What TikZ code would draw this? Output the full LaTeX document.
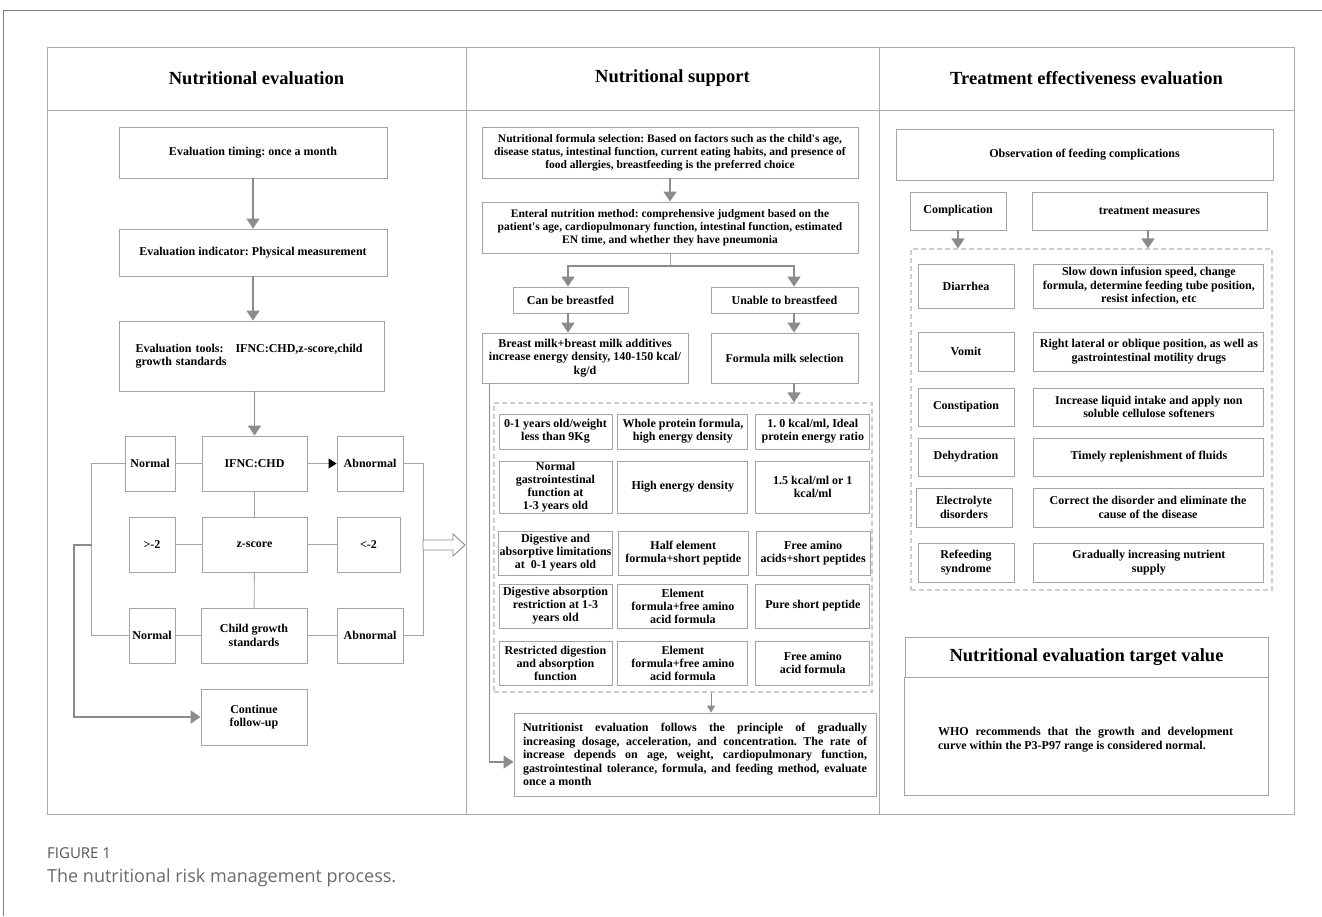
\documentclass[tikz,border=0pt]{standalone}
\usepackage{fontspec}
\setmainfont{Liberation Serif}
\newfontfamily\capfont{Open Sans}
\usetikzlibrary{arrows.meta, positioning, calc}
\frenchspacing

\definecolor{boxgray}{HTML}{A4A4A4}
\definecolor{framegray}{HTML}{ABABAB}
\definecolor{arrowgray}{HTML}{8C8C8C}
\definecolor{dashgray}{HTML}{CDCDCD}
\definecolor{capgray}{HTML}{6A6A6A}
\definecolor{capdark}{HTML}{555555}
\definecolor{outline}{HTML}{808080}

\begin{document}
\begin{tikzpicture}[x=1pt, y=-1pt]
  \tikzset{
    box/.style={
        rectangle, draw=boxgray, line width=0.9pt,
        font=\bfseries\fontsize{12}{13.5}\selectfont,
        align=center, inner sep=1pt,
      },
    cell/.style={box, font=\bfseries\fontsize{12}{13}\selectfont},
    colhead/.style={
        rectangle, draw=framegray, line width=1pt,
        font=\bfseries\fontsize{18.5}{22}\selectfont,
      },
    frame/.style={draw=framegray, line width=1pt},
    dashbox/.style={
        rectangle, draw=dashgray, line width=1.3pt,
        dash pattern=on 5pt off 3pt,
      },
    flow/.style={
        draw=arrowgray, line width=1.8pt,
        -{Triangle[width=13pt,length=10pt]},
      },
    thinflow/.style={
        draw=arrowgray, line width=0.9pt,
        -{Triangle[width=8pt,length=7pt]},
      },
    link/.style={draw=boxgray, line width=0.9pt},
  }
  \useasboundingbox (0,0) rectangle (1322,916);
  \draw[outline, line width=1pt] (3,10) -- (1322,10);
  \draw[outline, line width=1pt] (3,10) -- (3,916);

  % three columns
  \node[colhead, minimum width=419pt, minimum height=63pt] (evalhead) at (256.5,78.5) {Nutritional evaluation};
  \node[colhead, minimum width=413pt, minimum height=63pt] (supphead) at (672.5,78.5) {Nutritional support};
  \node[colhead, minimum width=415pt, minimum height=63pt] (effhead) at (1086.5,78.5) {Treatment effectiveness evaluation};
  \draw[frame] (47,110) rectangle (466,814);
  \draw[frame] (466,110) rectangle (879,814);
  \draw[frame] (879,110) rectangle (1294,814);

  % nutritional evaluation
  \node[box, minimum width=268pt, minimum height=51pt] (timing) at (253,152.5) {Evaluation timing: once a month};
  \node[box, minimum width=268pt, minimum height=47pt] (indic) at (253,252.5) {Evaluation indicator: Physical measurement};
  \node[box, minimum width=265pt, minimum height=70pt, text width=232pt, align=left] (tools) at (251.5,356)
    {Evaluation tools:\quad IFNC:CHD,z-score,child\\growth standards};

  \node[box, minimum width=105pt, minimum height=55pt] (ifnc) at (254.5,463.5) {IFNC:CHD};
  \node[box, minimum width=50pt, minimum height=55pt] (norm1) at (150,463.5) {Normal};
  \node[box, minimum width=66pt, minimum height=55pt] (abn1) at (370,463.5) {Abnormal};
  \node[box, minimum width=105pt, minimum height=55pt] (zsc) at (254.5,544.5) {z-score};
  \node[box, minimum width=46pt, minimum height=55pt] (gt) at (152,544.5) {>-2};
  \node[box, minimum width=63pt, minimum height=55pt] (lt) at (368.5,544.5) {<-2};
  \node[box, minimum width=106pt, minimum height=55pt] (cgs) at (254,635.5) {Child growth\\standards};
  \node[box, minimum width=46pt, minimum height=55pt] (norm2) at (152,635.5) {Normal};
  \node[box, minimum width=66pt, minimum height=55pt] (abn2) at (370,635.5) {Abnormal};
  \node[box, minimum width=106pt, minimum height=56pt] (cont) at (254,717) {Continue\\follow-up};

  \draw[flow] (timing) -- (indic);
  \draw[flow] (indic.south) -- (indic.south |- tools.north);
  \draw[flow] (ifnc.north |- tools.south) -- (ifnc.north);
  \draw[link, -{Triangle[width=10pt,length=8pt,color=black]}] (ifnc) -- (abn1);
  \draw[link] (norm1) -- (ifnc);
  \draw[link] (gt) -- (zsc);
  \draw[link] (zsc) -- (lt);
  \draw[link] (norm2) -- (cgs);
  \draw[link] (cgs) -- (abn2);
  \draw[link] (ifnc) -- (zsc);
  \draw[link] (zsc) -- (cgs);
  \draw[link] (norm1.west) -- ++(-33,0) |- (norm2.west);
  \draw[link] (abn1.east) -- ++(20,0) |- (abn2.east);
  \coordinate (lbr) at (92,545);
  \coordinate (rbr) at (423,545);
  \draw[flow] (lbr) -- ++(-18,0) |- (cont.west);
  \draw[draw=arrowgray, line width=0.9pt, fill=white] ([yshift=5pt]rbr) -- ++(30,0) -- ++(0,-6)
    -- ++(12,11) -- ++(-12,11) -- ++(0,-6) -- ++(-30,0) -- cycle;

  % nutritional support
  \node[box, minimum width=376pt, minimum height=51pt, font=\bfseries\fontsize{11.5}{13}\selectfont] (formula) at (670,152.5)
    {Nutritional formula selection: Based on factors such as the child\textquotesingle s age,\\
     disease status, intestinal function, current eating habits, and presence of\\
     food allergies, breastfeeding is the preferred choice};
  \node[box, minimum width=376pt, minimum height=51pt, font=\bfseries\fontsize{11.5}{13}\selectfont] (enteral) at (670,227.5)
    {Enteral nutrition method: comprehensive judgment based on the\\
     patient\textquotesingle s age, cardiopulmonary function, intestinal function, estimated\\
     EN time, and whether they have pneumonia};
  \node[box, minimum width=115pt, minimum height=26pt] (canbf) at (570.5,300) {Can be breastfed};
  \node[box, minimum width=147pt, minimum height=26pt] (unable) at (784.5,300) {Unable to breastfeed};
  \node[box, minimum width=206pt, minimum height=50pt] (breast) at (585,358)
    {Breast milk+breast milk additives\\increase energy density, 140-150 kcal/\\kg/d};
  \node[box, minimum width=147pt, minimum height=50pt] (fmilk) at (784.5,358) {Formula milk selection};

  \node[dashbox, minimum width=378pt, minimum height=289pt] (grid) at (683,547.5) {};
  \node[cell, minimum width=113pt, minimum height=35pt] (r1a) at (555.5,431.5) {0-1 years old/weight\\less than 9Kg};
  \node[cell, minimum width=130pt, minimum height=35pt, right=5pt of r1a] (r1b) {Whole protein formula,\\high energy density};
  \node[cell, minimum width=114pt, minimum height=35pt, right=7pt of r1b] (r1c) {1. 0 kcal/ml, Ideal\\protein energy ratio};
  \node[cell, minimum width=113pt, minimum height=52pt] (r2a) at (555.5,487) {Normal\\gastrointestinal\\function at\\1-3 years old};
  \node[cell, minimum width=130pt, minimum height=52pt, right=5pt of r2a] (r2b) {High energy density};
  \node[cell, minimum width=114pt, minimum height=52pt, right=7pt of r2b] (r2c) {1.5 kcal/ml or 1\\kcal/ml};
  \node[cell, minimum width=113pt, minimum height=44pt] (r3a) at (555.5,553) {Digestive and\\absorptive limitations\\at\ \ 0-1 years old};
  \node[cell, minimum width=130pt, minimum height=44pt, right=5pt of r3a] (r3b) {Half element\\formula+short peptide};
  \node[cell, minimum width=114pt, minimum height=44pt, right=7pt of r3b] (r3c) {Free amino\\acids+short peptides};
  \node[cell, minimum width=113pt, minimum height=44pt] (r4a) at (555.5,606) {Digestive absorption\\restriction at 1-3\\years old};
  \node[cell, minimum width=130pt, minimum height=44pt, right=5pt of r4a] (r4b) {Element\\formula+free amino\\acid formula};
  \node[cell, minimum width=114pt, minimum height=44pt, right=7pt of r4b] (r4c) {Pure short peptide};
  \node[cell, minimum width=113pt, minimum height=44pt] (r5a) at (555.5,663) {Restricted digestion\\and absorption\\function};
  \node[cell, minimum width=130pt, minimum height=44pt, right=5pt of r5a] (r5b) {Element\\formula+free amino\\acid formula};
  \node[cell, minimum width=114pt, minimum height=44pt, right=7pt of r5b] (r5c) {Free amino\\acid formula};

  \node[box, minimum width=362pt, minimum height=83pt, text width=344pt, align=justify] (nutri) at (695,754.5)
    {Nutritionist evaluation follows the principle of gradually\linebreak
     increasing dosage, acceleration, and concentration. The rate of\linebreak
     increase depends on age, weight, cardiopulmonary function,\linebreak
     gastrointestinal tolerance, formula, and feeding method, evaluate\linebreak
     once a month};

  \coordinate (split) at (670,266);
  \draw[flow] (formula) -- (enteral);
  \draw[link] (enteral.south) -- (split);
  \draw[flow] (split) -| ([xshift=-2.5pt]canbf.north);
  \draw[flow] (split) -| ([xshift=9.5pt]unable.north);
  \draw[flow] ([xshift=-2.5pt]canbf.south) -- ([xshift=-2.5pt]canbf.south |- breast.north);
  \draw[flow] ([xshift=9.5pt]unable.south) -- ([xshift=9.5pt]unable.south |- fmilk.north);
  \draw[flow] ([xshift=9.5pt]fmilk.south) -- ([xshift=9.5pt]fmilk.south |- grid.north);
  \draw[thinflow] ([xshift=28pt]grid.south) -- ([xshift=28pt]grid.south |- nutri.north);
  \draw[flow, line width=1.5pt] ([xshift=8pt]breast.south west) |- ([yshift=-7.5pt]nutri.west);

  % treatment effectiveness evaluation
  \node[box, minimum width=377pt, minimum height=51pt] (obs) at (1084.5,154.5) {Observation of feeding complications};
  \node[box, minimum width=96pt, minimum height=38pt] (compl) at (958,211) {Complication};
  \node[box, minimum width=235pt, minimum height=38pt] (treat) at (1149.5,211) {treatment measures};
  \node[dashbox, minimum width=361pt, minimum height=341pt] (compgrid) at (1091.5,419.5) {};

  \node[box, minimum width=96pt, minimum height=44pt] (diar) at (966,286) {Diarrhea};
  \node[box, minimum width=230pt, minimum height=44pt, right=19pt of diar] (diartx)
    {Slow down infusion speed, change\\formula, determine feeding tube position,\\resist infection, etc};
  \node[box, minimum width=96pt, minimum height=39pt] (vomit) at (966,351.5) {Vomit};
  \node[box, minimum width=230pt, minimum height=39pt, right=19pt of vomit] (vomittx)
    {Right lateral or oblique position, as well as\\gastrointestinal motility drugs};
  \node[box, minimum width=96pt, minimum height=38pt] (const) at (966,407) {Constipation};
  \node[box, minimum width=230pt, minimum height=38pt, right=19pt of const] (consttx)
    {Increase liquid intake and apply non\\soluble cellulose softeners};
  \node[box, minimum width=96pt, minimum height=38pt] (dehyd) at (966,457) {Dehydration};
  \node[box, minimum width=230pt, minimum height=38pt, right=19pt of dehyd] (dehydtx)
    {Timely replenishment of fluids};
  \node[box, minimum width=96pt, minimum height=39pt] (elec) at (964,507.5) {Electrolyte\\disorders};
  \node[box, minimum width=230pt, minimum height=39pt] (electx) at (1148,507.5)
    {Correct the disorder and eliminate the\\cause of the disease};
  \node[box, minimum width=96pt, minimum height=39pt] (refeed) at (966,562.5) {Refeeding\\syndrome};
  \node[box, minimum width=230pt, minimum height=39pt, right=19pt of refeed] (refeedtx)
    {Gradually increasing nutrient\\supply};

  \draw[flow] (compl) -- (compl |- compgrid.north);
  \draw[flow] ([xshift=-1.5pt]treat.south) -- ([xshift=-1.5pt]treat.south |- compgrid.north);

  % target value
  \node[colhead, draw=boxgray, minimum width=363pt, minimum height=40pt] (target) at (1086.5,657) {Nutritional evaluation target value};
  \draw[frame, draw=boxgray] (target.south west) rectangle (1268,795);
  \node[font=\bfseries\fontsize{12}{14}\selectfont, text width=295pt, align=justify, inner sep=0pt] (who) at (1085.5,740)
    {WHO recommends that the growth and development\linebreak
     curve within the P3-P97 range is considered normal.};

  % caption
  \node[anchor=west, inner sep=0pt, text=capdark, font=\capfont\fontsize{15}{18}\selectfont] (figno) at (47,853) {FIGURE 1};
  \node[anchor=west, inner sep=0pt, text=capgray, font=\capfont\fontsize{18}{21}\selectfont] (figcap) at (47,878)
    {The nutritional risk management process.};
\end{tikzpicture}
\end{document}
